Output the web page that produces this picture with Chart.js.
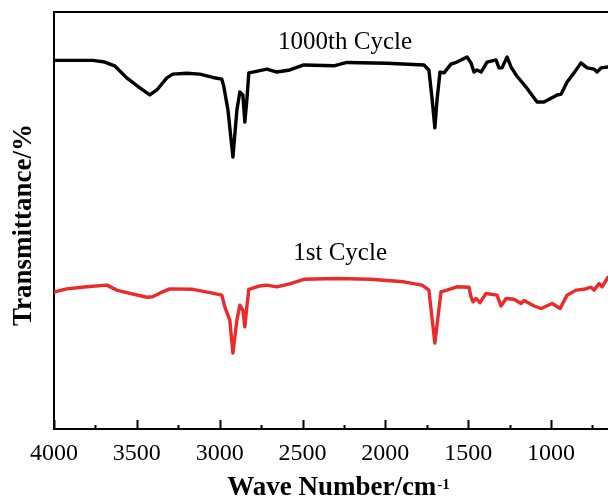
<!DOCTYPE html>
<html>
<head>
<meta charset="utf-8">
<script src="https://cdn.jsdelivr.net/npm/chart.js@4.4.1/dist/chart.umd.min.js"></script>
<style>
  html, body { margin: 0; padding: 0; background: #fff; overflow: hidden; }
  #wrap { width: 608px; height: 500px; }
</style>
</head>
<body>
<div id="wrap"><canvas id="myChart" width="608" height="500"></canvas></div>
<script>
// 1000th cycle spectrum (wavenumber / transmittance, arbitrary units)
var wn1000 = [3996, 3766, 3694, 3634, 3561, 3482, 3422, 3379, 3319, 3283, 3198, 3120, 3041, 2987, 2975, 2950, 2920, 2896, 2878, 2860, 2848, 2836, 2824, 2800, 2715, 2655, 2577, 2492, 2311, 2232, 1990, 1767, 1737, 1719, 1701, 1688, 1670, 1646, 1604, 1568, 1507, 1483, 1465, 1447, 1422, 1386, 1332, 1314, 1296, 1265, 1241, 1211, 1151, 1084, 1042, 963, 939, 903, 861, 819, 782, 740, 722, 698, 656];
var t1000 = [88.4, 88.4, 88.0, 87.1, 84.2, 81.8, 80.1, 81.3, 84.2, 85.1, 85.3, 85.1, 84.3, 83.9, 82.1, 76.5, 65.2, 76.5, 80.8, 80.1, 73.6, 78.9, 85.4, 85.6, 86.3, 85.6, 86.1, 87.3, 87.1, 87.9, 87.7, 87.3, 86.1, 79.6, 72.2, 78.9, 85.6, 85.4, 87.5, 88.0, 89.2, 87.8, 85.6, 86.1, 85.6, 88.0, 88.5, 86.6, 86.6, 89.2, 86.8, 84.9, 82.0, 78.4, 78.4, 80.1, 80.3, 83.2, 85.4, 87.8, 86.6, 86.3, 85.6, 86.6, 86.8];

// 1st cycle spectrum
var wn1 = [3996, 3923, 3802, 3681, 3621, 3561, 3440, 3404, 3344, 3301, 3162, 3059, 2987, 2969, 2939, 2920, 2896, 2878, 2860, 2848, 2836, 2824, 2757, 2715, 2655, 2577, 2492, 2293, 2088, 1888, 1779, 1737, 1719, 1701, 1682, 1664, 1628, 1568, 1495, 1483, 1471, 1453, 1429, 1392, 1326, 1302, 1271, 1223, 1181, 1163, 1102, 1060, 993, 945, 903, 849, 801, 758, 740, 710, 692, 656];
var t1 = [32.9, 33.6, 34.1, 34.5, 33.3, 32.7, 31.6, 31.7, 32.9, 33.6, 33.5, 32.7, 32.1, 29.3, 26.1, 18.2, 26.1, 29.7, 28.5, 24.5, 29.3, 33.5, 34.3, 34.5, 34.1, 34.8, 35.9, 36.1, 35.9, 35.3, 34.5, 33.3, 26.9, 20.6, 26.9, 32.9, 33.3, 34.1, 34.0, 31.7, 30.5, 31.3, 30.3, 32.5, 32.1, 29.5, 31.3, 31.1, 30.1, 30.8, 29.5, 28.9, 30.1, 28.9, 32.1, 33.3, 33.5, 34.0, 33.3, 34.9, 34.1, 36.4];

// x axis tick values
var xTicks = [4000, 3750, 3500, 3250, 3000, 2750, 2500, 2250, 2000, 1750, 1500, 1250, 1000, 750];

var seriesNames = ['1000th Cycle', '1st Cycle'];
var labelAt = [[2243, 92.6], [2273, 42.0]];

var serif = '"Liberation Serif", "Times New Roman", serif';

function toPoints(xs, ys) {
    return xs.map(function (x, i) { return { x: x, y: ys[i] }; });
}

// inward tick marks on the bottom axis + curve labels + axis titles
var decorPlugin = {
    id: 'decor',
    afterDraw: function (chart) {
        var ctx = chart.ctx;
        var xs = chart.scales.x;
        var ys = chart.scales.y;
        var area = chart.chartArea;
        ctx.save();
        ctx.strokeStyle = '#000';
        ctx.lineWidth = 2;
        xTicks.forEach(function (v) {
            var px = Math.round(xs.getPixelForValue(v)) + 0.5;
            var len = (v % 500 === 0) ? 9 : 4;
            ctx.beginPath();
            ctx.moveTo(px, area.bottom);
            ctx.lineTo(px, area.bottom - len);
            ctx.stroke();
        });

        ctx.fillStyle = '#000';
        ctx.textAlign = 'center';
        ctx.textBaseline = 'middle';
        ctx.font = '25px ' + serif;
        seriesNames.forEach(function (name, i) {
            ctx.fillText(name, xs.getPixelForValue(labelAt[i][0]), ys.getPixelForValue(labelAt[i][1]));
        });

        // x title with superscript
        var main = 'Wave Number/cm';
        var sup = '-1';
        ctx.font = 'bold 27px ' + serif;
        var w1 = ctx.measureText(main).width;
        ctx.font = 'bold 15px ' + serif;
        var w2 = ctx.measureText(sup).width;
        var x0 = 338 - (w1 + w2) / 2;
        ctx.textAlign = 'left';
        ctx.textBaseline = 'alphabetic';
        ctx.font = 'bold 27px ' + serif;
        ctx.fillText(main, x0, 495);
        ctx.font = 'bold 15px ' + serif;
        ctx.fillText(sup, x0 + w1 + 1, 489);

        // y title
        ctx.translate(24, 225);
        ctx.rotate(-Math.PI / 2);
        ctx.textAlign = 'center';
        ctx.textBaseline = 'middle';
        ctx.font = 'bold 27px ' + serif;
        ctx.fillText('Transmittance/%', 0, 0);
        ctx.restore();
    }
};

var chartSpectra = new Chart(document.getElementById('myChart'), {
    type: 'line',
    data: {
        datasets: [
            {
                label: seriesNames[0],
                data: toPoints(wn1000, t1000),
                borderColor: '#000000',
                borderWidth: 3.4,
                pointRadius: 0,
                tension: 0,
                borderJoinStyle: 'round',
                borderCapStyle: 'round'
            },
            {
                label: seriesNames[1],
                data: toPoints(wn1, t1),
                borderColor: '#ec2a2a',
                borderWidth: 3.4,
                pointRadius: 0,
                tension: 0,
                borderJoinStyle: 'round',
                borderCapStyle: 'round'
            }
        ]
    },
    options: {
        responsive: false,
        animation: false,
        layout: { padding: { top: 12, right: 0, left: 0, bottom: 0 } },
        plugins: {
            legend: { display: false },
            tooltip: { enabled: false },
            title: { display: false }
        },
        scales: {
            x: {
                type: 'linear',
                position: 'bottom',
                reverse: true,
                min: 656,
                max: 4000,
                afterBuildTicks: function (scale) {
                    scale.ticks = xTicks.map(function (v) { return { value: v }; });
                },
                afterFit: function (scale) { scale.height = 71; },
                grid: { display: false, drawTicks: false },
                border: { display: true, color: '#000', width: 2 },
                ticks: {
                    autoSkip: false,
                    maxRotation: 0,
                    padding: 10,
                    color: '#000',
                    font: { family: serif, size: 24 },
                    callback: function (v) { return v % 500 === 0 ? String(v) : ''; }
                }
            },
            x2: {
                type: 'linear',
                position: 'top',
                reverse: true,
                min: 656,
                max: 4000,
                afterFit: function (scale) { scale.height = 0; },
                grid: { display: false, drawTicks: false },
                border: { display: true, color: '#000', width: 2 },
                ticks: { display: false }
            },
            y: {
                min: 0,
                max: 100,
                afterFit: function (scale) { scale.width = 54; },
                grid: { display: false, drawTicks: false },
                border: { display: true, color: '#000', width: 2 },
                ticks: { display: false }
            }
        }
    },
    plugins: [decorPlugin]
});
</script>
</body>
</html>
